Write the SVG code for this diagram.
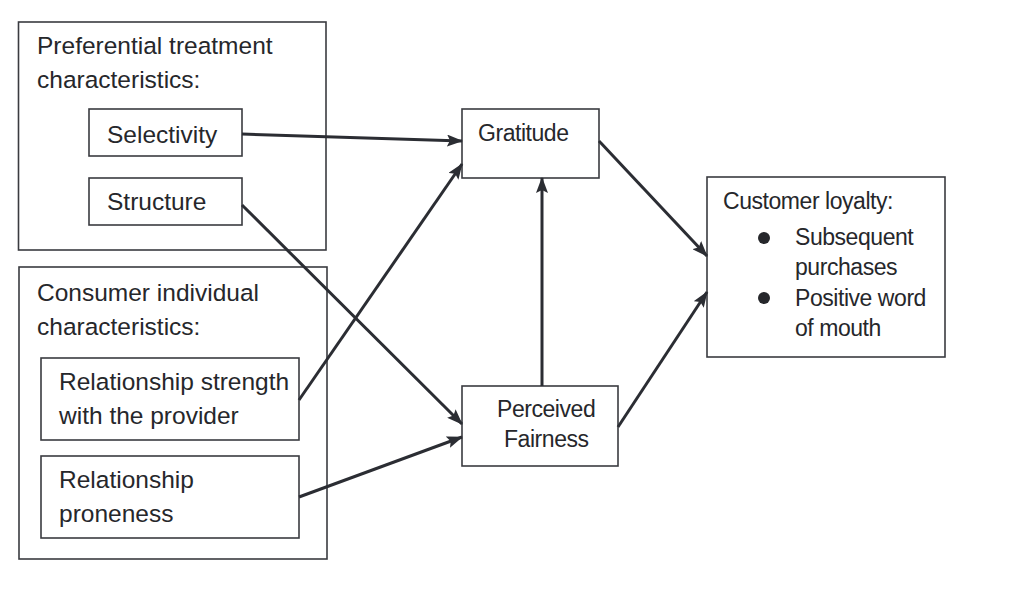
<svg xmlns="http://www.w3.org/2000/svg" width="1024" height="590" viewBox="0 0 1024 590">
<style>
.box{fill:#fff;stroke:#3a3b40;stroke-width:1.6}
.t{font-family:"Liberation Sans",Arial,sans-serif;font-size:24.5px;fill:#26272b}
.s{font-size:23px;letter-spacing:-0.45px}
.c{stroke:#2b2d33;stroke-width:3;fill:none;marker-end:url(#ah)}
</style>
<defs>
<marker id="ah" viewBox="0 0 16 12" refX="15" refY="6" markerWidth="16" markerHeight="12" markerUnits="userSpaceOnUse" orient="auto">
<path d="M0,0 L16,6 L0,12 L3,6 z" fill="#2b2d33"/>
</marker>
</defs>
<rect width="1024" height="590" fill="#fff"/>
<g id="preferential">
<rect class="box" x="18.5" y="22" width="307.5" height="228"/>
<text class="t" x="37" y="54">Preferential treatment</text>
<text class="t" x="37" y="88">characteristics:</text>
</g>
<g id="selectivity">
<rect class="box" x="89" y="109" width="153" height="47"/>
<text class="t" x="107" y="143">Selectivity</text>
</g>
<g id="structure">
<rect class="box" x="89" y="178" width="153" height="47"/>
<text class="t" x="107" y="210">Structure</text>
</g>
<g id="consumer">
<rect class="box" x="19" y="267" width="308" height="292"/>
<text class="t" x="37" y="301">Consumer individual</text>
<text class="t" x="37" y="335">characteristics:</text>
</g>
<g id="strength">
<rect class="box" x="41" y="358" width="258" height="82"/>
<text class="t" x="59" y="390">Relationship strength</text>
<text class="t" x="59" y="424">with the provider</text>
</g>
<g id="proneness">
<rect class="box" x="41" y="456" width="258" height="82"/>
<text class="t" x="59" y="488">Relationship</text>
<text class="t" x="59" y="522">proneness</text>
</g>
<g id="gratitude">
<rect class="box" x="462" y="109" width="137" height="69"/>
<text class="t s" x="478" y="141">Gratitude</text>
</g>
<g id="fairness">
<rect class="box" x="462" y="386" width="156" height="80"/>
<text class="t s" x="497" y="417">Perceived</text>
<text class="t s" x="504" y="447">Fairness</text>
</g>
<g id="loyalty">
<rect class="box" x="707" y="177" width="238" height="180"/>
<text class="t s" x="723" y="209">Customer loyalty:</text>
<circle cx="764" cy="238" r="6" fill="#26272b"/>
<text class="t s" x="795" y="245">Subsequent</text>
<text class="t s" x="795" y="275">purchases</text>
<circle cx="764" cy="298" r="6" fill="#26272b"/>
<text class="t s" x="795" y="306">Positive word</text>
<text class="t s" x="795" y="336">of mouth</text>
</g>
<g id="connectors">
<line class="c" x1="242" y1="134" x2="462" y2="141"/>
<line class="c" x1="242" y1="205" x2="462" y2="424"/>
<line class="c" x1="299" y1="400" x2="462" y2="164"/>
<line class="c" x1="299" y1="497" x2="462" y2="437"/>
<line class="c" x1="542" y1="386" x2="542" y2="178"/>
<line class="c" x1="599" y1="141" x2="707" y2="256"/>
<line class="c" x1="618" y1="427" x2="707" y2="292"/>
</g>
</svg>
